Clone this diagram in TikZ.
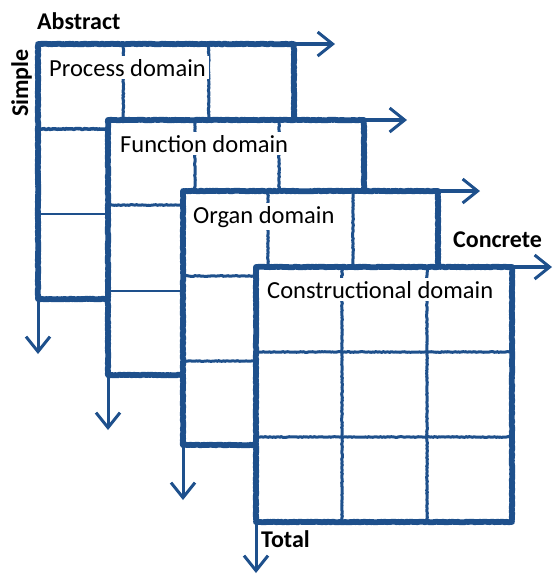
\documentclass[tikz,border=0pt]{standalone}
\usepackage{fontspec}
\setmainfont{Carlito}
\usetikzlibrary{arrows.meta,decorations.pathmorphing}
\definecolor{lineblue}{RGB}{30,80,140}
\tikzset{
  rough/.style={decorate, decoration={random steps, segment length=1.5pt, amplitude=0.35pt}},
  paneledge/.style={draw=lineblue, line width=5.8pt, line join=round, rough},
  gridline/.style={draw=lineblue, line width=3pt, rough},
  thingrid/.style={draw=lineblue, line width=1.8pt},
  axisarrow/.style={draw=lineblue, line width=3.5pt, -{Straight Barb[length=15pt,width=24pt,line width=3pt]}},
  domlabel/.style={fill=white, anchor=base west, inner xsep=3pt, inner ysep=2.5pt, font=\fontsize{24.5}{28}\selectfont},
  axislabel/.style={font=\bfseries\fontsize{24}{28}\selectfont, anchor=base west, inner sep=0pt}
}
\begin{document}
\begin{tikzpicture}[x=1pt,y=-1pt]
\pgfmathsetseed{7}
\useasboundingbox (0,0) rectangle (553,574);
% ---------- Panel 1: Process domain
\begin{scope}[shift={(38,44)}]
  \coordinate (p1tl) at (0,0);
  \coordinate (p1tr) at (256,0);
  \coordinate (p1bl) at (0,255);
  \coordinate (p1br) at (256,255);
  \coordinate (p1x) at (297,0);
  \coordinate (p1y) at (0,310);
  \fill[white] (p1tl) rectangle (p1br);
  \draw[gridline] (85.3,0) -- (85.3,255);
  \draw[gridline] (170.7,0) -- (170.7,255);
  \draw[gridline, line width=3.5pt] (0,85) -- (256,85);
  \draw[thingrid] (0,170) -- (256,170);
  \node[domlabel] (p1lab) at (8,32) {Process domain};
  \draw[paneledge] (p1tl) -- (p1tr) -- (p1br) -- (p1bl) -- cycle;
  \draw[axisarrow] (p1tr) -- (p1x);
  \draw[axisarrow, line width=3pt] (p1bl) -- (p1y);
\end{scope}
% ---------- Panel 2: Function domain
\begin{scope}[shift={(108,120)}]
  \coordinate (p2tl) at (0,0);
  \coordinate (p2tr) at (256,0);
  \coordinate (p2bl) at (0,255);
  \coordinate (p2br) at (256,255);
  \coordinate (p2x) at (299,0);
  \coordinate (p2y) at (0,310);
  \fill[white] (p2tl) rectangle (p2br);
  \draw[gridline] (87,0) -- (87,255);
  \draw[gridline] (171,0) -- (171,255);
  \draw[gridline] (0,85) -- (256,85);
  \draw[thingrid] (0,171) -- (256,171);
  \node[domlabel] (p2lab) at (9,32) {Function domain};
  \draw[paneledge] (p2tl) -- (p2tr) -- (p2br) -- (p2bl) -- cycle;
  \draw[axisarrow] (p2tr) -- (p2x);
  \draw[axisarrow, line width=3pt] (p2bl) -- (p2y);
\end{scope}
% ---------- Panel 3: Organ domain
\begin{scope}[shift={(183,191)}]
  \coordinate (p3tl) at (0,0);
  \coordinate (p3tr) at (255,0);
  \coordinate (p3bl) at (0,254);
  \coordinate (p3br) at (255,254);
  \coordinate (p3x) at (297,0);
  \coordinate (p3y) at (0,309);
  \fill[white] (p3tl) rectangle (p3br);
  \draw[gridline] (85,0) -- (85,254);
  \draw[gridline] (170,0) -- (170,254);
  \draw[gridline] (0,85) -- (255,85);
  \draw[gridline] (0,170) -- (255,170);
  \node[domlabel] (p3lab) at (7,32) {Organ domain};
  \draw[paneledge] (p3tl) -- (p3tr) -- (p3br) -- (p3bl) -- cycle;
  \draw[axisarrow] (p3tr) -- (p3x);
  \draw[axisarrow, line width=3pt] (p3bl) -- (p3y);
\end{scope}
% ---------- Panel 4: Constructional domain
\begin{scope}[shift={(256,267)}]
  \coordinate (p4tl) at (0,0);
  \coordinate (p4tr) at (256,0);
  \coordinate (p4bl) at (0,255);
  \coordinate (p4br) at (256,255);
  \coordinate (p4x) at (296,0);
  \coordinate (p4y) at (0,306);
  \fill[white] (p4tl) rectangle (p4br);
  \draw[gridline] (86,0) -- (86,255);
  \draw[gridline] (171,0) -- (171,255);
  \draw[gridline] (0,85) -- (256,85);
  \draw[gridline] (0,170) -- (256,170);
  \node[domlabel] (p4lab) at (8,31) {Constructional domain};
  \draw[paneledge] (p4tl) -- (p4tr) -- (p4br) -- (p4bl) -- cycle;
  \draw[axisarrow] (p4tr) -- (p4x);
  \draw[axisarrow, line width=3pt] (p4bl) -- (p4y);
\end{scope}
% ---------- Axis labels
\node[axislabel] (abstract) at (37,29) {Abstract};
\node[axislabel, rotate=90] (simple) at (28,117) {Simple};
\node[axislabel] (concrete) at (453,247) {Concrete};
\node[axislabel] (total) at (261,547) {Total};
\end{tikzpicture}
\end{document}
